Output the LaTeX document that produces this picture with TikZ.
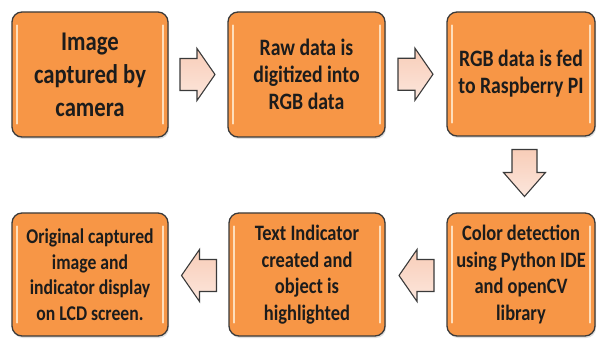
\documentclass[tikz,border=0pt]{standalone}
\usepackage{fontspec}
\setmainfont{Carlito}
\newfontfamily\boxfont[FakeStretch=0.84]{Carlito}
\usetikzlibrary{shadows,calc}
\definecolor{boxfill}{HTML}{F79646}
\definecolor{boxedge}{HTML}{3A3A3A}
\definecolor{arrowfill}{HTML}{F8CDB8}
\definecolor{arrowlight}{HTML}{FCE6DC}
\definecolor{hl}{HTML}{FFE6C8}
\definecolor{txt}{HTML}{1C1C1C}
\tikzset{
  stepbox/.style={draw=boxedge, line width=1.3pt, rounded corners=10pt, fill=boxfill,
    drop shadow={opacity=0.25, shadow xshift=1pt, shadow yshift=-2pt},
    align=center, text=txt, inner sep=0pt},
  bigtext/.style={font=\boxfont\bfseries\fontsize{27}{33}\selectfont},
  midtext/.style={font=\boxfont\bfseries\fontsize{23.5}{27}\selectfont},
  normtext/.style={font=\boxfont\bfseries\fontsize{22}{26.5}\selectfont},
  smalltext/.style={font=\boxfont\bfseries\fontsize{21}{25.5}\selectfont},
  blockarrow/.style={draw=boxedge, line width=1.1pt, line join=miter,
    left color=arrowfill, right color=arrowlight, shading angle=0},
  harrow/.pic={\draw[blockarrow] (-18,-16) -- (-1,-16) -- (-1,-26) -- (17,0) -- (-1,26) -- (-1,16) -- (-18,16) -- cycle;},
  hl/.style={draw=hl, line width=1.8pt, line cap=round, opacity=0.9}
}
\begin{document}
\begin{tikzpicture}[x=1pt,y=-1pt]
\useasboundingbox (0,0) rectangle (597,339);

\node[stepbox, bigtext,  minimum width=156pt, minimum height=125pt] (b1) at (90,74.5) {Image\\captured by\\camera};
\node[stepbox, midtext,  minimum width=157pt, minimum height=125pt] (b2) at (306.5,74.5) {Raw data is\\digitized into\\RGB data};
\node[stepbox, midtext,  minimum width=148pt, minimum height=124pt] (b3) at (521,74) {RGB data is fed\\to Raspberry PI};
\node[stepbox, smalltext, minimum width=156pt, minimum height=123pt] (b4) at (90,274.5) {Original captured\\image and\\indicator display\\on LCD screen.};
\node[stepbox, normtext, minimum width=156pt, minimum height=123pt] (b5) at (307,274.5) {Text Indicator\\created and\\object is\\highlighted};
\node[stepbox, normtext, minimum width=148pt, minimum height=123pt] (b6) at (521,274.5) {Color detection\\using Python IDE\\and openCV\\library};

\foreach \b in {b1,b2,b3,b4,b5,b6}{
  \draw[hl] ($(\b.north west)+(6,14)$) -- ($(\b.south west)+(6,-14)$);
  \draw[hl] ($(\b.north east)+(-6,14)$) -- ($(\b.south east)+(-6,-14)$);
}

\coordinate (m12) at ($(b1.east)!0.5!(b2.west)$);
\coordinate (m23) at ($(b2.east)!0.5!(b3.west)$);
\coordinate (m65) at ($(b6.west)!0.5!(b5.east)$);
\coordinate (m54) at ($(b5.west)!0.5!(b4.east)$);
\coordinate (m36) at ($(b3.south)!0.5!(b6.north)+(3.5,-1)$);

\pic at (m12) {harrow};
\pic at (m23) {harrow};
\pic[rotate=180] at ($(m65)+(0,1)$) {harrow};
\pic[rotate=180] at ($(m54)+(0,1)$) {harrow};
\draw[blockarrow] ($(m36)+(-12.5,-24)$) -- ($(m36)+(12.5,-24)$) -- ($(m36)+(12.5,-1)$) -- ($(m36)+(21,-1)$) -- ($(m36)+(0,23)$) -- ($(m36)+(-21,-1)$) -- ($(m36)+(-12.5,-1)$) -- cycle;
\end{tikzpicture}
\end{document}
